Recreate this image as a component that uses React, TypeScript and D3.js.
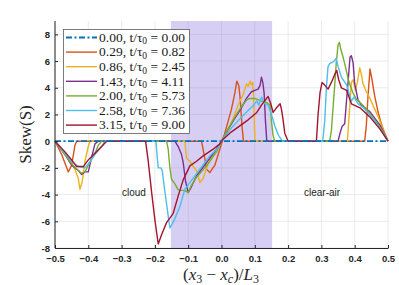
import { useEffect, useRef } from 'react';
import * as d3 from 'd3';

type Pt = [number, number];

const labels = ['0.00', '0.29', '0.86', '1.43', '2.00', '2.58', '3.15'];
const times = ['0.00', '0.82', '2.45', '4.11', '5.73', '7.36', '9.00'];
const colors = ['#0072bd', '#d95319', '#edb120', '#7e2f8e', '#77ac30', '#4dbeee', '#a2142f'];

const s000: Pt[] = [[-0.5, 0], [0.5, 0]];

const s029: Pt[] = [
  [-0.5, 0], [-0.48, -1.0], [-0.46, -2.3], [-0.45, -1.8], [-0.44, -0.3], [-0.435, 0],
  [-0.06, 0], [-0.05, -1.3], [-0.045, -2.1], [-0.035, -2.35], [-0.02, -1.8], [-0.01, -1.0],
  [0.0, -0.2], [0.01, 0.6], [0.02, 1.5], [0.03, 2.4], [0.04, 3.6], [0.046, 4.5], [0.052, 4.15],
  [0.056, 3.2], [0.062, 1.0], [0.066, 0], [0.43, 0], [0.435, 1.2], [0.44, 3.4], [0.446, 5.4],
  [0.452, 4.6], [0.46, 3.4], [0.47, 2.2], [0.48, 1.3], [0.49, 0.6], [0.5, 0],
];

const s086: Pt[] = [
  [-0.5, 0], [-0.47, -0.9], [-0.45, -1.7], [-0.44, -2.1], [-0.43, -2.8], [-0.425, -3.6],
  [-0.418, -3.0], [-0.41, -1.5], [-0.4, -0.4], [-0.395, 0], [-0.11, 0], [-0.105, -1.3],
  [-0.095, -1.5], [-0.085, -1.9], [-0.075, -2.2], [-0.065, -3.1], [-0.055, -2.8],
  [-0.045, -2.0], [-0.03, -1.2], [-0.015, -0.6], [0.0, 0.0], [0.02, 0.8], [0.035, 1.7],
  [0.05, 2.7], [0.065, 3.5], [0.075, 4.3], [0.08, 4.1], [0.086, 4.5], [0.09, 4.2],
  [0.094, 4.4], [0.097, 3.0], [0.1, 0.2], [0.102, 0], [0.378, 0], [0.382, 1.5], [0.386, 2.9],
  [0.39, 4.4], [0.395, 4.6], [0.402, 3.8], [0.408, 4.4], [0.415, 5.5], [0.42, 5.0],
  [0.425, 4.3], [0.435, 3.7], [0.446, 3.2], [0.46, 2.4], [0.471, 1.8], [0.485, 0.9], [0.5, 0],
];

const s143: Pt[] = [
  [-0.5, 0], [-0.47, -1.0], [-0.45, -1.8], [-0.43, -2.2], [-0.42, -2.5], [-0.41, -2.3],
  [-0.4, -2.3], [-0.39, -1.2], [-0.38, -0.2], [-0.37, 0], [-0.14, 0], [-0.13, -0.4],
  [-0.12, -1.0], [-0.115, -1.6], [-0.108, -3.0], [-0.1, -3.85], [-0.09, -3.4], [-0.075, -2.6],
  [-0.06, -2.1], [-0.045, -1.6], [-0.03, -1.1], [-0.015, -0.6], [0.0, 0.0], [0.02, 0.9],
  [0.04, 1.7], [0.06, 2.5], [0.075, 3.2], [0.09, 3.7], [0.1, 3.8], [0.11, 3.9], [0.116, 4.2],
  [0.12, 4.8], [0.124, 4.4], [0.128, 3.6], [0.132, 1.5], [0.136, 0], [0.35, 0], [0.356, 0.6],
  [0.362, 1.1], [0.37, 1.3], [0.374, 2.6], [0.38, 4.4], [0.386, 6.3], [0.39, 6.4],
  [0.395, 5.9], [0.4, 4.3], [0.41, 3.1], [0.42, 2.7], [0.446, 2.2], [0.476, 1.2], [0.5, 0],
];

const s200: Pt[] = [
  [-0.5, 0], [-0.47, -1.0], [-0.45, -1.7], [-0.43, -2.2], [-0.42, -2.4], [-0.41, -2.3],
  [-0.4, -1.8], [-0.38, -0.9], [-0.37, -0.3], [-0.36, 0], [-0.165, 0], [-0.16, -0.6],
  [-0.155, -2.0], [-0.15, -2.85], [-0.14, -3.2], [-0.13, -3.65], [-0.11, -3.7], [-0.1, -3.85],
  [-0.09, -3.3], [-0.075, -2.7], [-0.045, -1.85], [-0.015, -0.8], [0.0, 0.0], [0.02, 0.9],
  [0.04, 1.8], [0.06, 2.6], [0.076, 3.1], [0.085, 3.2], [0.1, 3.2], [0.12, 3.0], [0.135, 2.9],
  [0.146, 2.7], [0.15, 1.5], [0.155, 0.4], [0.16, 0], [0.325, 0], [0.33, 0.8], [0.335, 2.5],
  [0.34, 4.2], [0.345, 6.0], [0.35, 7.2], [0.354, 7.4], [0.358, 6.9], [0.365, 6.3],
  [0.371, 5.7], [0.38, 4.7], [0.386, 4.2], [0.395, 3.6], [0.405, 3.15], [0.42, 2.8],
  [0.436, 2.4], [0.45, 1.9], [0.466, 1.4], [0.485, 0.7], [0.5, 0],
];

const s258: Pt[] = [
  [-0.5, 0], [-0.47, -0.9], [-0.45, -1.5], [-0.43, -1.9], [-0.41, -2.0], [-0.4, -1.7],
  [-0.38, -1.0], [-0.36, -0.4], [-0.35, 0], [-0.197, 0], [-0.193, -1.2], [-0.19, -2.0],
  [-0.182, -2.0], [-0.178, -2.2], [-0.17, -3.8], [-0.16, -5.6], [-0.155, -6.5], [-0.148, -6.2],
  [-0.14, -5.8], [-0.125, -4.9], [-0.11, -3.6], [-0.095, -3.1], [-0.08, -2.6], [-0.065, -2.1],
  [-0.035, -1.1], [-0.01, -0.5], [0.0, 0.0], [0.03, 1.0], [0.06, 1.8], [0.08, 2.3],
  [0.095, 2.65], [0.106, 3.0], [0.112, 2.7], [0.12, 3.3], [0.13, 2.8], [0.14, 2.7],
  [0.15, 2.0], [0.16, 1.15], [0.17, 0.5], [0.18, 0.1], [0.185, 0], [0.304, 0], [0.31, 1.5],
  [0.315, 4.0], [0.32, 5.6], [0.325, 5.8], [0.332, 5.9], [0.338, 6.0], [0.344, 6.2],
  [0.35, 5.6], [0.36, 4.8], [0.376, 4.2], [0.39, 3.0], [0.398, 3.3], [0.41, 2.8],
  [0.426, 2.5], [0.44, 2.1], [0.456, 1.65], [0.48, 0.8], [0.5, 0],
];

const s315: Pt[] = [
  [-0.5, 0], [-0.47, -0.8], [-0.45, -1.4], [-0.435, -1.9], [-0.415, -1.9], [-0.4, -1.4],
  [-0.38, -0.9], [-0.36, -0.4], [-0.345, 0], [-0.228, 0], [-0.22, -1.5], [-0.21, -3.8],
  [-0.2, -5.9], [-0.19, -7.7], [-0.18, -7.0], [-0.165, -6.1], [-0.145, -5.4], [-0.13, -4.1],
  [-0.115, -2.9], [-0.095, -1.85], [-0.075, -1.5], [-0.055, -1.1], [-0.025, -0.6],
  [-0.005, -0.2], [0.005, 0.15], [0.03, 0.7], [0.055, 1.15], [0.08, 1.6], [0.106, 2.15],
  [0.12, 2.7], [0.14, 3.35], [0.148, 2.8], [0.155, 2.15], [0.165, 2.5], [0.176, 2.8],
  [0.18, 2.4], [0.185, 1.6], [0.19, 0.6], [0.2, 0], [0.285, 0], [0.29, 2.0], [0.296, 3.65],
  [0.302, 4.4], [0.31, 4.2], [0.32, 3.9], [0.33, 4.4], [0.34, 5.0], [0.346, 5.3],
  [0.352, 4.6], [0.36, 4.0], [0.376, 3.8], [0.39, 2.8], [0.416, 2.5], [0.446, 1.8],
  [0.476, 0.9], [0.5, 0],
];

const series = [s000, s029, s086, s143, s200, s258, s315];
const xTicks = [-0.5, -0.4, -0.3, -0.2, -0.1, 0, 0.1, 0.2, 0.3, 0.4, 0.5];
const yTicks = [-8, -6, -4, -2, 0, 2, 4, 6, 8];
const shadeRange = [-0.152, 0.152];

const App = () => {
  const ref = useRef<SVGSVGElement>(null);

  useEffect(() => {
    if (!ref.current) return;
    const svg = d3.select(ref.current);
    svg.selectAll('*').remove();

    const x = d3.scaleLinear().domain([-0.5, 0.5]).range([55, 388]);
    const y = d3.scaleLinear().domain([-8, 9]).range([248, 21]);
    const axisColor = '#262626';

    // grid
    const grid = svg.append('g').attr('stroke', '#e6e6e6').attr('stroke-width', 0.8);
    xTicks.forEach(t => {
      grid.append('line').attr('x1', x(t)).attr('x2', x(t)).attr('y1', y(-8)).attr('y2', y(9));
    });
    yTicks.forEach(t => {
      grid.append('line').attr('x1', x(-0.5)).attr('x2', x(0.5)).attr('y1', y(t)).attr('y2', y(t));
    });

    // shaded interface band
    svg.append('rect')
      .attr('x', x(shadeRange[0]))
      .attr('y', y(9))
      .attr('width', x(shadeRange[1]) - x(shadeRange[0]))
      .attr('height', y(-8) - y(9))
      .attr('fill', '#7b5cd6')
      .attr('fill-opacity', 0.3);

    const line = d3.line<Pt>().x(d => x(d[0])).y(d => y(d[1]));

    // curves, blue reference drawn last
    const order = [1, 2, 3, 4, 5, 6, 0];
    order.forEach(i => {
      svg.append('path')
        .datum(series[i])
        .attr('fill', 'none')
        .attr('stroke', colors[i])
        .attr('stroke-width', i === 0 ? 1.8 : 1.4)
        .attr('stroke-linejoin', 'round')
        .attr('stroke-dasharray', i === 0 ? '6,2.5,2,2.5' : null)
        .attr('d', line);
    });

    // axes
    const xAxis = svg.append('g').attr('transform', `translate(0,${y(-8)})`)
      .call(d3.axisBottom(x).tickValues(xTicks).tickSizeInner(-3).tickSizeOuter(0).tickPadding(6)
        .tickFormat(d => d3.format('.1f')(+d)));
    const yAxis = svg.append('g').attr('transform', `translate(${x(-0.5)},0)`)
      .call(d3.axisLeft(y).tickValues(yTicks).tickSizeInner(-3).tickSizeOuter(0).tickPadding(6)
        .tickFormat(d => String(d)));
    [xAxis, yAxis].forEach(a => {
      a.select('.domain').attr('stroke', axisColor).attr('stroke-width', 1);
      a.selectAll('.tick line').attr('stroke', axisColor);
      a.selectAll('.tick text')
        .attr('fill', axisColor)
        .style('font-family', '"Liberation Sans", Arial, sans-serif')
        .style('font-weight', 'bold')
        .style('font-size', '9.5px');
    });
    yAxis.select('.domain').attr('d', `M0,${y(9)}V${y(-8)}`);
    xAxis.selectAll('.tick text').attr('y', 7.5);
    yAxis.selectAll('.tick text').attr('x', -5);

    // annotations
    const ann = [{ t: 'cloud', x: -0.263, y: -4.1 }, { t: 'clear-air', x: 0.302, y: -4.1 }];
    ann.forEach(a => {
      svg.append('text')
        .attr('x', x(a.x)).attr('y', y(a.y))
        .attr('text-anchor', 'middle')
        .style('font-family', '"Liberation Sans", Arial, sans-serif')
        .style('font-size', '10px')
        .attr('fill', '#262626')
        .text(a.t);
    });

    // axis labels
    const serif = '"Liberation Serif", "Times New Roman", serif';
    const xl = svg.append('text')
      .attr('x', 221).attr('y', 280)
      .attr('text-anchor', 'middle')
      .style('font-family', serif)
      .style('font-size', '17px')
      .attr('fill', '#262626');
    xl.append('tspan').text('(');
    xl.append('tspan').style('font-style', 'italic').text('x');
    xl.append('tspan').attr('dy', 3).style('font-size', '12px').text('3');
    xl.append('tspan').attr('dy', -3).text(' − ');
    xl.append('tspan').style('font-style', 'italic').text('x');
    xl.append('tspan').attr('dy', 3).style('font-size', '12px').style('font-style', 'italic').text('c');
    xl.append('tspan').attr('dy', -3).text(')/');
    xl.append('tspan').style('font-style', 'italic').text('L');
    xl.append('tspan').attr('dy', 3).style('font-size', '12px').text('3');

    svg.append('text')
      .attr('transform', `translate(31,${y(0.5)}) rotate(-90)`)
      .attr('text-anchor', 'middle')
      .style('font-family', serif)
      .style('font-size', '17px')
      .attr('fill', '#262626')
      .text('Skew(S)');

    // legend
    const lg = svg.append('g');
    lg.append('rect')
      .attr('x', 63.5).attr('y', 29.5).attr('width', 126).attr('height', 104)
      .attr('fill', 'white').attr('stroke', '#5a5a5a').attr('stroke-width', 0.8);
    labels.forEach((lab, i) => {
      const cy = 37.5 + i * 14.6;
      lg.append('line')
        .attr('x1', 66).attr('x2', 97).attr('y1', cy).attr('y2', cy)
        .attr('stroke', colors[i])
        .attr('stroke-width', i === 0 ? 1.8 : 1.4)
        .attr('stroke-dasharray', i === 0 ? '6,2.5,2,2.5' : null);
      const tx = lg.append('text')
        .attr('x', 99).attr('y', cy + 4.3)
        .style('font-family', serif)
        .style('font-size', '13.5px')
        .attr('fill', '#1a1a1a');
      tx.append('tspan').text(`${lab}, t/τ`);
      tx.append('tspan').attr('dy', 2.5).style('font-size', '9.5px').text('0');
      tx.append('tspan').attr('dy', -2.5).text(` = ${times[i]}`);
    });
  }, []);

  return (
    <svg ref={ref} width={399} height={285}
      style={{ position: 'absolute', left: 0, top: 0, background: 'white' }} />
  );
};

export default App;
